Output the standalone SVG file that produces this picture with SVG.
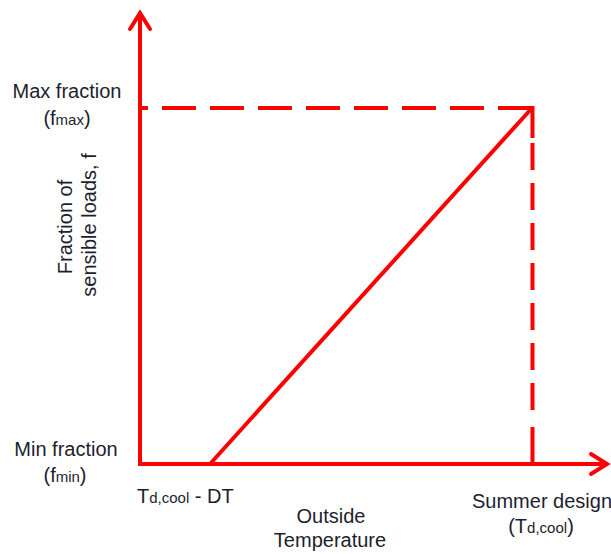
<svg xmlns="http://www.w3.org/2000/svg" width="611" height="554" viewBox="0 0 611 554">
  <style>
    .ax { stroke: #ff0000; stroke-width: 4; fill: none; }
    .dash { stroke: #ff0000; stroke-width: 4; fill: none; }
    .lbl { font-family: "Liberation Sans", Arial, sans-serif; font-size: 20px; fill: #1e1e2e; }
    .sub { font-size: 15px; }
  </style>
  <defs>
    <marker id="arr" markerUnits="userSpaceOnUse" markerWidth="40" markerHeight="40" viewBox="-20 -20 40 40" refX="0" refY="0" orient="auto" overflow="visible">
      <path d="M-16,-10 L0,0 L-16,10" stroke="#ff0000" stroke-width="4" fill="none" stroke-linejoin="miter" stroke-linecap="round"/>
    </marker>
  </defs>
  <rect width="611" height="554" fill="#ffffff"/>
  <g id="connectors">
    <path id="y-axis" class="ax" d="M140,464 V13" marker-end="url(#arr)"/>
    <path id="x-axis" class="ax" d="M138,464 H607" marker-end="url(#arr)"/>
    <path id="max-line" class="dash" d="M532,108 H140" stroke-dasharray="34 14"/>
    <path id="design-line" class="dash" d="M532.5,106 V464" stroke-dasharray="32 5 27 13 27 13 27 13 27 13 27 13 27 13 27 17 40 0"/>
    <path id="ramp" class="ax" d="M210,464 L532,108"/>
  </g>
  <g id="label-max">
    <text class="lbl" x="67" y="98" text-anchor="middle">Max fraction</text>
    <text class="lbl" x="67" y="125" text-anchor="middle">(f<tspan class="sub">max</tspan>)</text>
  </g>
  <g id="label-min">
    <text class="lbl" x="66" y="456" text-anchor="middle">Min fraction</text>
    <text class="lbl" x="65" y="482" text-anchor="middle">(f<tspan class="sub">min</tspan>)</text>
  </g>
  <g id="label-yaxis">
    <text class="lbl" transform="translate(72,227) rotate(-90)" text-anchor="middle">Fraction of</text>
    <text class="lbl" transform="translate(96,225) rotate(-90)" text-anchor="middle">sensible loads, f</text>
  </g>
  <g id="label-tlow">
    <text class="lbl" x="137" y="503">T<tspan class="sub">d,cool</tspan> - DT</text>
  </g>
  <g id="label-xaxis">
    <text class="lbl" x="331" y="523" text-anchor="middle">Outside</text>
    <text class="lbl" x="330" y="547" text-anchor="middle">Temperature</text>
  </g>
  <g id="label-design">
    <text class="lbl" x="542" y="508" text-anchor="middle">Summer design</text>
    <text class="lbl" x="541" y="533" text-anchor="middle">(T<tspan class="sub">d,cool</tspan>)</text>
  </g>
</svg>
